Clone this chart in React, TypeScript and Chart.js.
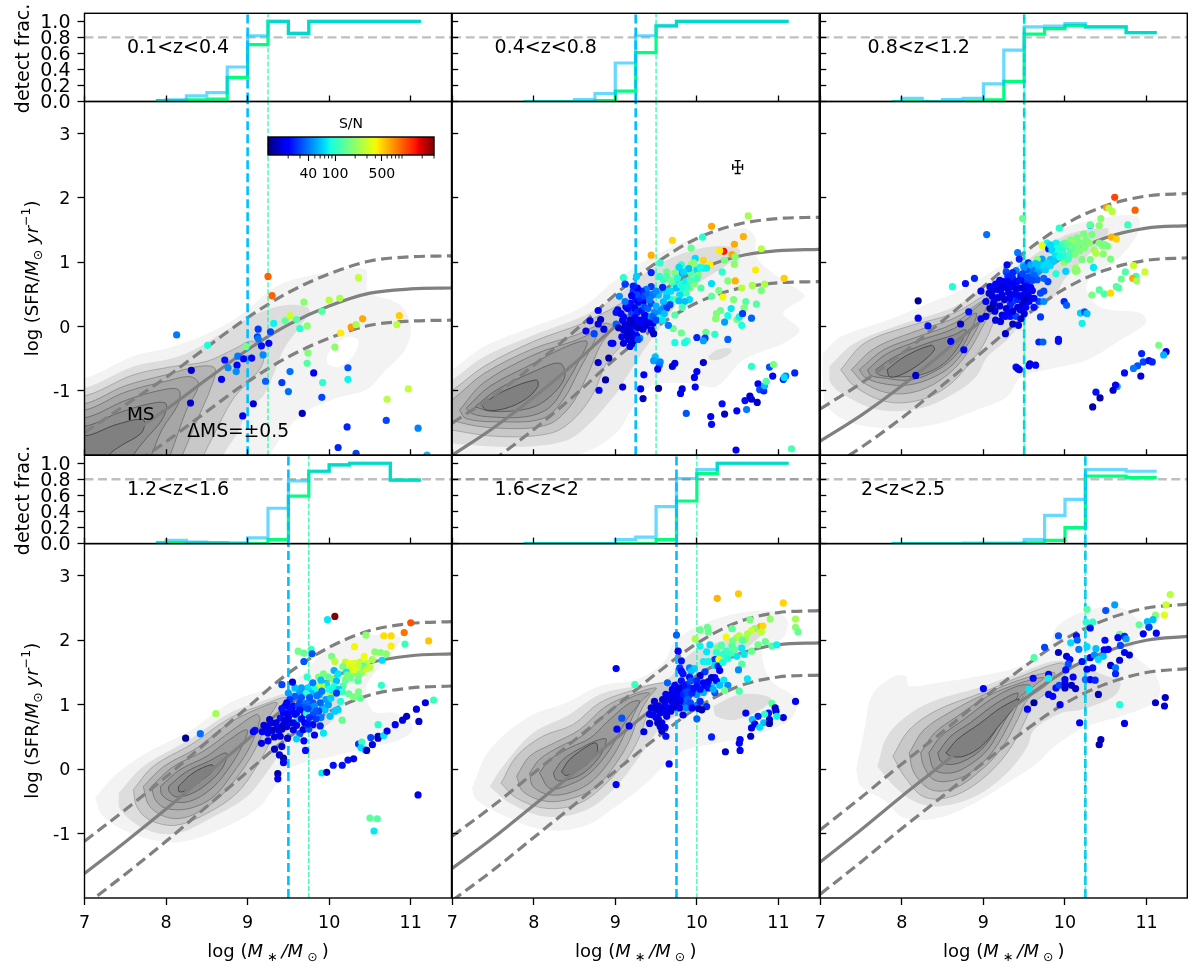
import React, { useEffect, useRef } from 'react';
import { Chart, registerables } from 'chart.js';
Chart.register(...registerables);

type P = number[];
const FONT = '"DejaVu Sans"';

// ---- shared axes ----
const massTicks = [7, 8, 9, 10, 11];
const fracTicks = [0, 0.2, 0.4, 0.6, 0.8, 1.0];
const sfrTicks = [-1, 0, 1, 2, 3];
const zLabels = ['0.1<z<0.4', '0.4<z<0.8', '0.8<z<1.2', '1.2<z<1.6', '1.6<z<2', '2<z<2.5'];
const zLabelX = [7.52, 7.52, 7.58, 7.52, 7.52, 7.5];
const blueLimit = [9.0, 9.25, 9.5, 9.5, 9.75, 10.25];
const greenLimit = [9.25, 9.5, 9.5, 9.75, 10.0, 10.25];
const detectLevel = 0.8;

// ---- detection fraction histograms ----
const binEdges = [7.875, 8, 8.25, 8.5, 8.75, 9, 9.25, 9.5, 9.75, 10, 10.25, 10.5, 10.75, 11, 11.125];
const blueFrac = [
  [0.01, 0.02, 0.07, 0.11, 0.43, 0.82, 1, 0.85, 1, 1, 1, 1, 1, 1, 1],
  [0, 0, 0, 0.025, 0.1, 0.48, 0.82, 0.95, 1, 1, 1, 1, 1, 1, 1],
  [0, 0.04, 0, 0.025, 0.04, 0.22, 0.64, 0.93, 0.94, 0.97, 0.93, 0.93, 0.86, 0.86, 0.86],
  [0.01, 0.04, 0.02, 0.01, 0.01, 0.07, 0.44, 0.78, 0.9, 0.98, 1, 1, 0.79, 0.79, 0.79],
  [0, 0, 0, 0, 0, 0.05, 0.08, 0.46, 0.81, 0.92, 1, 1, 1, 1, 1],
  [0, 0, 0, 0, 0.005, 0.005, 0.005, 0.05, 0.35, 0.55, 0.92, 0.92, 0.9, 0.9, 0.9],
];
const greenFrac = [
  [0.01, 0.01, 0.02, 0.03, 0.3, 0.71, 1, 0.85, 1, 1, 1, 1, 1, 1, 1],
  [0, 0, 0, 0, 0.01, 0.13, 0.61, 0.94, 1, 1, 1, 1, 1, 1, 1],
  [0, 0, 0, 0, 0, 0.02, 0.25, 0.84, 0.91, 0.95, 0.93, 0.93, 0.86, 0.86, 0.86],
  [0.01, 0.01, 0.01, 0.01, 0, 0, 0.05, 0.59, 0.9, 0.98, 1, 1, 0.79, 0.79, 0.79],
  [0, 0, 0, 0, 0, 0, 0, 0.05, 0.53, 0.87, 1, 1, 1, 1, 1],
  [0, 0, 0, 0, 0, 0, 0, 0.01, 0.04, 0.2, 0.84, 0.84, 0.82, 0.82, 0.82],
];

// ---- main sequence curves ----
const msMass = [7, 7.5, 8, 8.5, 9, 9.5, 10, 10.5, 11, 11.5];
const msMid = [
  [-2.15, -1.72, -1.29, -0.82, -0.36, 0.03, 0.32, 0.52, 0.585, 0.6],
  [-2.0, -1.58, -1.1, -0.57, 0.0, 0.49, 0.87, 1.09, 1.18, 1.2],
  [-1.78, -1.38, -0.92, -0.41, 0.12, 0.65, 1.09, 1.38, 1.53, 1.57],
  [-1.62, -1.13, -0.62, -0.08, 0.46, 0.99, 1.39, 1.65, 1.76, 1.79],
  [-1.54, -1.07, -0.56, -0.05, 0.47, 0.98, 1.45, 1.78, 1.93, 1.96],
  [-1.44, -0.94, -0.42, 0.08, 0.6, 1.09, 1.52, 1.82, 2.0, 2.06],
];
const msUpper = [
  [-1.65, -1.22, -0.79, -0.32, 0.14, 0.53, 0.82, 1.02, 1.085, 1.1],
  [-1.5, -1.08, -0.6, -0.07, 0.5, 0.99, 1.37, 1.59, 1.68, 1.7],
  [-1.28, -0.88, -0.42, 0.09, 0.62, 1.15, 1.59, 1.88, 2.03, 2.07],
  [-1.12, -0.63, -0.12, 0.42, 0.96, 1.49, 1.89, 2.15, 2.26, 2.29],
  [-1.04, -0.57, -0.06, 0.45, 0.97, 1.48, 1.95, 2.28, 2.43, 2.46],
  [-0.94, -0.44, 0.08, 0.58, 1.1, 1.59, 2.02, 2.32, 2.5, 2.56],
];
const msLower = [
  [-2.65, -2.22, -1.79, -1.32, -0.86, -0.47, -0.18, 0.02, 0.085, 0.1],
  [-2.5, -2.08, -1.6, -1.07, -0.5, -0.01, 0.37, 0.59, 0.68, 0.7],
  [-2.28, -1.88, -1.42, -0.91, -0.38, 0.15, 0.59, 0.88, 1.03, 1.07],
  [-2.12, -1.63, -1.12, -0.58, -0.04, 0.49, 0.89, 1.15, 1.26, 1.29],
  [-2.04, -1.57, -1.06, -0.55, -0.03, 0.48, 0.95, 1.28, 1.43, 1.46],
  [-1.94, -1.44, -0.92, -0.42, 0.1, 0.59, 1.02, 1.32, 1.5, 1.56],
];

// ---- galaxies: [log mass, log SFR, S/N] ----
const galaxiesP1: P[] = [
  [8.13,-0.13,40],[9.25,0.78,1000],[9.3,0.48,1000],[8.51,-0.29,90],[8.98,-0.31,170],[9.32,0.05,80],[9.46,0.09,140],[9.52,0.17,300],[9.6,0.11,130],[9.64,-0.03,95],[9.73,0.01,190],[9.69,0.38,190],[9.91,0.24,130],[10,0.41,260],[10.13,0.44,240],[10.36,0.76,280],[10.14,-0.1,430],[10.27,-0.01,700],[10.33,0.03,230],[10.41,0.12,650],[10.86,0.17,520],[10.83,0.03,270],[10.07,-0.32,190],[9.74,-0.41,180],[9.73,-0.57,130],
  [9.13,-0.04,28],[9.28,-0.08,30],[9.12,-0.16,30],[9.13,-0.19,40],[9.17,-0.3,22],[9.26,-0.26,20],[9.19,-0.44,45],[8.88,-0.46,40],[8.72,-0.52,22],[8.31,-0.68,14],[8.76,-0.64,45],[8.87,-0.6,20],[8.95,-0.5,20],[9.05,-0.49,18],[8.86,-0.7,45],[8.68,-0.82,18],[8.3,-1.19,15],[9.07,-1.2,16],[8.94,-1.39,20],[9.22,-0.85,35],[9.42,-0.87,28],[9.52,-0.7,38],[9.5,-1.01,38],[9.81,-0.72,18],[9.92,-0.87,100],[9.91,-1.1,30],[9.67,-1.35,14],[10.23,-0.64,32],[10.23,-0.82,80],[10.22,-1.56,25],[10.11,-1.88,25],[10.33,-1.97,30],[10.7,-1.46,30],[10.71,-1.13,260],[10.97,-0.97,280],[11.09,-1.58,42],[11.2,-2.0,60],
];
const galaxiesP2: P[] = [
  [10.63,1.72,230],[10.18,1.56,650],[10.57,1.4,620],[10.46,1.28,650],[9.7,1.34,480],[10.07,1.39,95],[9.44,1.11,620],[10.33,1.17,1600],[10.28,1.18,430],[10.79,1.21,260],[10.43,1.12,650],[10.47,1.08,190],[10.08,1.03,500],[10.16,0.96,420],[9.98,1.06,70],[9.93,1.22,150],[9.55,0.99,100],[10.34,1.03,170],[10.46,0.97,190],[9.81,0.96,100],[9.96,0.99,190],[9.63,0.85,150],[9.1,0.76,100],[9.26,0.78,65],[9.44,0.84,25],[9.12,0.66,28],[9.78,0.92,70],[9.82,0.83,55],[10,0.88,70],[10.12,0.91,80],[10.31,0.85,100],[10.72,0.88,430],[11.07,0.75,520],[10.47,0.71,620],[10.38,0.71,180],[10.18,0.67,70],[10.83,0.66,240],[10.68,0.64,240],[10.55,0.6,270],[10.79,0.56,170],[10.27,0.56,170],[10.18,0.47,140],[10.32,0.46,400],[10.45,0.42,180],[10.6,0.39,130],[10.58,0.29,180],[10.73,0.35,130],[10.29,0.25,150],[10.42,0.28,75],[10.24,0.2,180],[10.23,0.12,190],[10.34,0.07,50],[10.38,0.17,85],[10.49,0.11,170],[10.52,0.15,80],[10.56,0.2,28],[10.67,0.13,35],[10.55,0.02,90],[10.38,-0.2,35],[10.22,-0.12,100],[10.11,-0.09,150],[10,-0.17,25],[10.1,-0.18,28],[10.08,-0.22,50],[9.88,-0.22,110],[9.85,-0.25,85],[9.73,-0.25,85],[9.81,-0.1,150],[9.71,-0.03,150],[9.65,0.02,40],
  [9.59,0.73,110],[9.71,0.67,110],[9.83,0.57,90],[9.91,0.42,70],[9.87,0.52,110],[9.79,0.49,70],[9.69,0.42,90],[9.75,0.42,130],[9.85,0.39,60],[9.59,0.39,60],[9.63,0.47,60],[9.53,0.49,60],[9.54,0.78,100],[9.63,0.78,130],[9.73,0.83,170],[9.93,0.83,130],[10.02,0.8,170],[10.08,0.91,80],[9.93,0.96,190],[9.97,0.67,180],[9.91,0.6,170],[9.73,0.18,130],[9.59,0.29,50],[9.67,0.34,30],[9.63,0.29,28],[9.53,0.21,50],[9.42,0.16,50],[9.54,0.13,100],
  [9.62,0.55,70],[9.68,0.55,70],[9.75,0.6,60],[9.8,0.65,90],[9.86,0.7,80],[9.92,0.72,120],[10,0.75,110],[10.04,0.92,85],[9.9,0.9,60],[9.84,0.85,70],[9.76,0.75,90],[9.68,0.72,150],[9.88,0.62,95],[9.78,0.4,60],[9.82,0.3,120],[10.05,0.6,130],
  [9.44,0.62,28],[9.38,0.58,40],[9.32,0.55,25],[9.58,0.61,25],[9.22,0.55,28],[9.3,0.49,22],[9.25,0.42,22],[9.34,0.39,18],[9.18,0.36,20],[9.13,0.31,18],[9.05,0.47,45],[9.12,0.39,40],[9.03,0.26,20],[9.01,0.22,22],[9.09,0.1,18],[9.01,0.04,35],[9.2,0.21,30],[9.3,0.31,50],[9.42,0.06,18],[9.46,0.05,16],[9.36,0.18,18],[9.44,-0.05,18],[9.22,0.08,20],[9.18,0,18],[9.26,0.03,18],[9.16,-0.03,16],[9.34,-0.04,16],[9.24,-0.05,18],[9.08,-0.16,18],[9.1,-0.26,16],[8.97,-0.26,18],[8.95,-0.26,20],[9.2,-0.18,15],[9.18,-0.31,18],[9.24,-0.1,40],[9.3,-0.18,45],[8.79,0.25,18],[8.69,0.09,18],[8.82,0.11,14],[8.79,0.04,16],[8.86,-0.04,16],[8.64,-0.07,18],[8.74,-0.11,30],[9.47,-0.11,14],
  [9.07,0.2,18],[9.1,0.15,20],[9.15,0.28,20],[9.2,0.32,22],[9.24,0.28,18],[9.27,0.22,25],[9.32,0.25,22],[9.28,0.38,20],[9.36,0.3,30],[9.4,0.28,35],[9.44,0.36,30],[9.48,0.22,45],[9.36,0.1,20],[9.3,0.1,18],[9.24,0.14,18],[9.18,0.1,16],[9.12,0.03,16],[9.2,0.05,14],[9.28,-0.02,14],[9.32,0.06,20],[9.38,0.02,16],[9.2,-0.1,16],[9.14,-0.13,14],[9.22,-0.22,14],[9.16,-0.2,16],[9.26,-0.14,20],[9.28,-0.2,30],[9.2,-0.27,16],[9.1,-0.05,16],[9.04,-0.02,14],[9.3,0.44,25],[9.26,0.5,30],[9.2,0.48,20],[9.35,0.48,30],[9.4,0.5,35],[9.46,0.5,40],[9.42,0.42,40],[9.27,0.6,20],[9.22,0.63,24],[9.5,0.55,45],[9.5,0.32,55],[9.56,0.25,45],[9.6,0.2,60],[9.46,0.15,35],[9.5,0.1,30],[9.58,0.1,75],
  [8.92,-0.49,12],[8.79,-0.56,14],[9.49,-0.47,60],[9.47,-0.53,50],[9.55,-0.55,45],[9.54,-0.6,40],[9.52,-0.66,20],[9.73,-0.57,20],[9.7,-0.62,16],[10.08,-0.56,14],[10,-0.7,20],[9.97,-0.79,18],[9.35,-0.75,20],[8.88,-0.83,12],[8.8,-0.99,18],[9.09,-0.94,16],[9.31,-0.97,20],[9.53,-0.96,12],[9.34,-1.12,14],[9.82,-0.97,16],[9.8,-1.04,20],[9.98,-0.94,20],[9.87,-1.35,32],[10.17,-1.4,18],[10.18,-1.52,22],[10.31,-1.2,22],[10.34,-1.36,14],[10.49,-1.31,18],[10.61,-1.29,40],[10.59,-1.15,22],[10.65,-1.08,14],[10.67,-1.13,16],[10.74,-1.18,14],[10.75,-0.89,20],[10.77,-0.98,32],[10.82,-1,25],[10.83,-0.92,60],[10.85,-0.85,130],[10.93,-0.77,20],[10.89,-0.63,32],[10.94,-0.59,170],[10.67,-0.62,100],[11.06,-0.82,22],[11.09,-0.77,40],[11.07,-0.79,70],[11.2,-0.72,25],[10.48,-1.92,18],[11.16,-1.9,120],
];
const galaxiesP3: P[] = [
  [10.61,2.01,1200],[10.51,1.85,700],[10.58,1.79,270],[10.54,1.84,250],[10.86,1.81,1000],[10.44,1.68,190],[10.42,1.57,190],[10.31,1.57,60],[10.31,1.58,140],[10.77,1.58,110],[9.48,1.68,150],[9.93,1.53,100],[9.04,1.43,38],[10.23,1.44,170],[10.33,1.43,170],[10.15,1.38,170],[10.57,1.39,600],[10.63,1.36,500],[10.07,1.35,180],[10,1.3,140],[10.11,1.3,200],[10.17,1.3,170],[10.03,1.25,130],[9.95,1.27,110],[9.89,1.3,80],[9.78,1.3,80],[9.72,1.26,350],[9.8,1.21,24],[9.82,1.27,70],[9.91,1.22,90],[9.84,1.19,70],[9.93,1.14,90],[9.97,1.19,100],[10.07,1.19,110],[10.13,1.22,160],[10.21,1.3,170],[10.46,1.25,190],[10.52,1.25,170],[10.48,1.28,170],[10.36,1.19,220],[10.38,1.14,250],[10.47,1.13,190],[10.56,1.05,170],[10.21,1.04,170],[10.31,1.04,170],[10.35,0.92,75],[10.13,0.91,210],[10.15,0.87,190],[10.01,0.86,65],[9.89,0.82,90],[9.99,1,190],
  [9.88,1.1,75],[9.94,1.08,85],[10,1.1,90],[10.06,1.12,120],[10.12,1.12,170],[10.18,1.18,170],[10.24,1.22,180],[10.3,1.3,190],[10.26,1.34,170],[10.42,1.3,170],[10.08,1.25,150],[10.04,1.05,110],
  [9.72,1.05,50],[9.66,1.04,190],[9.82,1.04,60],[9.7,0.96,60],[9.78,0.99,70],[9.62,0.91,60],[9.72,0.91,60],[9.42,1.15,40],[9.44,1.05,25],[9.29,0.96,20],[9.49,0.95,60],[9.55,0.99,25],[9.53,0.88,30],[9.61,0.88,40],[9.4,0.87,40],[9.28,0.85,30],[9.58,0.8,40],[9.36,0.75,25],[9.46,0.79,22],[9.25,0.7,20],[9.4,0.69,18],[9.5,0.7,20],[9.54,0.7,25],[9.66,0.73,32],[9.74,0.75,35],[9.79,0.7,30],[9.08,0.62,20],[9.15,0.66,20],[8.97,0.55,20],[9.21,0.57,18],[9.29,0.6,16],[9.36,0.62,18],[9.44,0.6,20],[9.58,0.61,20],[9.07,0.52,14],[9.11,0.47,16],[9.23,0.49,16],[9.31,0.53,16],[9.03,0.39,20],[9.13,0.39,18],[9.36,0.39,30],[9.42,0.42,25],[9.54,0.52,18],[9.7,0.52,30],[9.74,0.55,30],[9.68,0.39,30],[9.74,0.39,45],[9.56,0.39,18],[9.48,0.34,14],[9.45,0.26,16],[9.33,0.34,25],[9.14,0.24,16],[9.03,0.16,16],[8.97,0.12,18],[9.23,0.18,16],[9.27,0.16,20],[9.33,0.16,22],[9.4,0.16,30],[9.15,0.1,16],[9.21,0.08,16],[9.36,0.04,14],[9.43,0.02,16],[9.27,-0.11,14],[9.99,0.39,25],[10.02,0.33,35],[9.7,0.15,28],
  [9.5,0.92,45],[9.58,0.96,55],[9.64,0.98,60],[9.68,0.9,60],[9.74,0.95,70],[9.76,0.88,65],[9.82,0.95,70],[9.86,1.02,65],[9.66,0.84,50],[9.62,0.8,35],[9.6,0.72,30],[9.54,0.76,30],[9.48,0.82,30],[9.44,0.72,22],[9.36,0.84,25],[9.3,0.78,25],[9.2,0.72,20],[9.3,0.7,20],[9.34,0.66,18],[9.22,0.64,16],[9.4,0.58,16],[9.52,0.62,20],[9.48,0.6,16],[9.5,0.5,18],[9.44,0.48,18],[9.38,0.5,20],[9.32,0.44,18],[9.26,0.42,16],[9.18,0.45,16],[9.16,0.58,16],[9.1,0.55,16],[9.6,0.56,18],[9.56,0.46,16],[9.62,0.44,20],[9.5,0.42,14],[9.42,0.3,16],[9.36,0.24,16],[9.28,0.28,16],[9.2,0.32,16],[9.12,0.34,14],[9.08,0.28,12],[9.3,0.22,20],[9.5,0.2,16],[9.52,0.3,18],[9.62,0.3,22],[9.46,0.12,14],
  [10.19,0.21,65],[10.24,0.23,32],[10.27,0.2,60],[10.21,0.05,80],[9.68,-0.24,25],[9.73,-0.24,35],[9.92,-0.2,22],[9.92,-0.23,22],[9.4,-0.63,22],[9.42,-0.65,18],[9.44,-0.67,16],[9.57,-0.58,16],[9.56,-0.61,20],[9.64,-0.6,18],[8.76,-0.36,18],[8.6,-0.23,18],[8.72,0.04,14],[8.82,0.23,22],[8.2,0.4,11],[8.2,0.13,20],[8.32,0.01,22],[8.17,-0.76,14],[8.62,0.62,90],[8.78,0.67,22],[8.89,0.75,25],
  [11.15,-0.29,170],[11.24,-0.39,18],[11.21,-0.44,55],[10.94,-0.42,25],[10.96,-0.55,30],[11.03,-0.53,22],[11.07,-0.55,25],[10.89,-0.61,32],[10.84,-0.65,40],[10.93,-0.77,16],[10.73,-0.72,22],[10.64,-0.93,50],[10.62,-0.91,20],[10.59,-0.99,14],[10.38,-1.02,22],[10.43,-1.11,12],[10.34,-1.25,12],
  [10.33,0.49,170],[10.42,0.57,130],[10.48,0.51,130],[10.56,0.52,480],[10.63,0.62,130],[10.66,0.6,130],[10.69,0.74,150],[10.74,0.85,130],[10.87,0.78,110],[10.83,0.75,650],[10.88,0.71,220],[10.98,0.85,300],[10.84,0.95,300],[10.13,0.86,190],
];
const galaxiesP4: P[] = [
  [10.07,2.37,2900],[9.98,2.32,75],[11,2.27,1100],[10.92,2.12,900],[11.22,1.99,550],[10.76,2.07,480],[10.67,2.07,470],[10.45,2.08,190],[10.93,1.94,110],[10.76,1.91,430],[10.31,1.9,400],[9.62,1.83,160],[9.69,1.8,150],[9.78,1.86,110],[9.79,1.79,32],[9.69,1.67,32],[10.03,1.75,170],[10.56,1.82,190],[10.63,1.81,180],[10.7,1.79,190],[10.07,1.67,260],[10.43,1.75,380],[10.53,1.7,230],[10.65,1.69,70],[10.2,1.66,270],[10.25,1.64,380],[10.31,1.64,350],[10.38,1.66,280],[10.46,1.64,280],[10.42,1.6,130],[10.27,1.57,300],[10.23,1.52,250],[10.17,1.59,170],[10.06,1.53,55],[10.11,1.48,75],[9.93,1.48,170],[9.87,1.43,170],[9.73,1.43,100],[10.21,1.5,75],[10.31,1.5,170],[9.99,1.43,140],[10.05,1.39,170],[9.97,1.31,70],[9.91,1.29,240],[9.85,1.28,280],[10.01,1.14,270],[10.09,1.37,60],[10.17,1.29,130],[10.35,1.37,130],[10.64,1.3,100],
  [10.2,1.38,150],[10.26,1.42,160],[10.22,1.46,170],[10.34,1.48,190],[10.4,1.5,220],[10.46,1.55,300],[10.5,1.58,280],[10.36,1.6,280],[10.3,1.54,350],[10.36,1.44,170],[10.04,1.22,80],[10,1.24,85],[10.06,1.28,90],[10.12,1.24,65],[10.16,1.2,110],[9.96,1.08,50],[10.02,1.1,65],[9.92,0.96,55],[9.9,1.38,60],[9.82,1.24,85],[9.74,1.26,70],[9.66,1.26,50],[9.58,1.26,60],[9.78,1.18,60],[9.88,1.16,50],
  [9.42,1.31,30],[9.55,1.35,16],[9.8,1.34,40],[9.91,1.21,40],[10.09,1.18,28],[10.24,1.17,150],[10.36,1.2,170],[10.3,1.12,170],[10.38,1.1,140],[10.14,1.05,90],
  [9.5,1.18,50],[9.64,1.19,50],[9.72,1.17,100],[9.58,1.13,35],[9.66,1.11,32],[9.52,1.08,28],[9.76,1.11,32],[9.85,1.14,40],[9.48,1.03,18],[9.56,0.98,22],[9.64,1.03,30],[9.7,1,40],[9.8,1.03,32],[9.89,1.03,35],[9.95,0.92,60],[9.99,1,50],[10.11,0.92,65],[10.07,0.9,65],[9.44,0.87,20],[9.5,0.87,18],[9.6,0.87,20],[9.7,0.85,24],[9.8,0.85,32],[9.62,0.77,75],[9.72,0.87,100],[10.01,0.82,60],[9.87,0.9,28],[9.4,0.79,22],[9.27,0.77,14],[9.29,0.72,16],[9.56,0.72,20],[9.8,0.69,20],[9.23,0.66,18],[9.36,0.66,18],[9.44,0.69,16],[9.64,0.55,32],[9.56,0.61,16],[9.68,0.61,16],[9.09,0.6,22],[9.07,0.58,20],[9.18,0.58,18],[9.25,0.56,18],[9.33,0.5,16],[9.4,0.51,16],[9.49,0.48,14],[9.75,0.62,32],[9.89,0.67,25],[9.17,0.4,16],[9.25,0.44,18],[9.6,0.47,65],[9.69,0.44,20],[9.93,0.56,75],[9.82,0.53,18],[9.33,0.31,14],[9.42,0.35,16],[9.71,0.29,22],[9.39,0.22,16],[9.44,0.17,12],[9.44,0.1,18],[9.37,-0.07,12],[9.37,-0.15,18],
  [9.78,0.95,45],[9.82,0.98,45],[9.72,1.02,38],[9.68,0.96,32],[9.62,0.98,30],[9.74,0.94,30],[9.84,0.9,32],[9.9,0.8,40],[9.84,0.78,28],[9.76,0.8,25],[9.64,0.92,22],[9.58,0.85,20],[9.54,0.92,20],[9.52,0.95,22],[9.46,0.98,18],[9.42,0.94,22],[9.5,0.8,18],[9.46,0.76,16],[9.52,0.72,16],[9.66,0.78,20],[9.7,0.72,20],[9.6,0.68,18],[9.74,0.7,22],[9.48,0.66,16],[9.42,0.62,14],[9.38,0.6,16],[9.35,0.72,16],[9.3,0.6,14],[9.26,0.62,16],[9.2,0.68,16],
  [8.24,0.48,11],[8.42,0.55,38],[8.61,0.86,230],[10.16,0.76,150],[9.91,-0.06,75],[9.97,-0.05,14],[10.05,0.06,22],[10.16,0.06,22],[10.23,0.14,22],[10.3,0.16,18],[10.36,0.39,28],[10.4,0.42,110],[10.39,0.33,70],[10.44,0.3,60],[10.46,0.29,14],[10.53,0.38,16],[10.51,0.49,30],[10.6,0.51,16],[10.6,0.48,14],[10.67,0.52,75],[10.6,0.69,100],[10.71,0.59,18],[10.81,0.69,18],[10.9,0.76,16],[10.95,0.82,14],[11.1,0.74,14],[11.07,0.93,16],[11.18,1.03,16],[11.28,1.07,110],[11.09,-0.4,18],[10.5,-0.76,140],[10.59,-0.77,130],[10.55,-0.96,75],
];
const galaxiesP5: P[] = [
  [10.25,2.65,600],[10.51,2.72,530],[11.06,2.58,500],[10.65,2.32,170],[10.9,2.33,200],[11.21,2.33,230],[11.21,2.2,190],[11.24,2.13,150],[10.04,2.16,150],[10.13,2.2,150],[10.14,2.13,150],[10.43,2.18,140],[10.78,2.21,650],[10.81,2.22,480],[10.71,2.18,200],[10.67,2.15,300],[10.79,2.13,270],[9.98,2.02,230],[10.36,2.05,400],[10.49,2.04,240],[10.52,2.07,250],[10.6,2.01,220],[10.44,1.99,160],[9.75,2.08,35],[10.04,1.91,80],[10.16,1.93,70],[10.43,1.91,130],[10.84,1.98,150],[10.75,1.93,150],[10.67,1.83,150],[10.92,1.91,130],[10.98,1.93,80],[10.25,1.88,170],[10.36,1.83,110],[10.24,1.81,100],[10.32,1.78,100],[10.12,1.82,75],[10.55,1.88,75],[10.49,1.75,75],[10.58,1.78,75],[9.77,1.83,20],[10.22,1.7,28],[10.27,1.7,400],[10.08,1.67,80],[10.14,1.67,80],[10.22,1.61,70],[10.55,1.63,130],[10.26,1.6,24],
  [10.32,1.66,85],[10.38,1.72,90],[10.42,1.8,110],[10.46,1.86,140],[10.3,1.92,130],[10.56,2.0,130],[10.62,2.1,240],
  [9.01,1.56,18],[9.81,1.68,22],[9.79,1.57,28],[9.81,1.52,20],[9.91,1.57,40],[9.97,1.56,65],[9.93,1.52,60],[10.1,1.51,28],[10.04,1.45,16],[10.51,1.54,45],[10.62,1.4,75],[10.22,1.42,20],[10.28,1.53,18],[9.91,1.43,22],[9.83,1.48,22],[9.93,1.37,32],[9.64,1.34,35],[9.73,1.3,20],[9.81,1.37,22],[9.87,1.31,30],[10,1.37,25],[10.1,1.29,20],[10.24,1.37,20],[10.33,1.38,75],[10.38,1.3,45],[10.18,1.29,65],[9.24,1.31,110],[10,1.29,22],[9.69,1.17,20],[9.77,1.21,16],[9.83,1.24,25],[9.91,1.26,25],[10.22,1.19,32],[10.34,1.22,160],[10.52,1.21,130],[9.67,1.13,18],[9.75,1.11,18],[9.81,1.05,18],[10,1.16,45],[10.08,1.19,55],[9.48,1.05,16],[9.44,0.95,16],[9.53,0.98,18],[9.59,0.95,16],[9.65,0.95,18],[9.75,1.03,16],[9.87,1,32],[10,0.99,40],[10.12,0.97,25],[9.61,1.03,18],[9.83,0.84,16],[9.79,0.95,18],[9.87,0.95,45],[10.06,0.92,12],[9.42,0.85,18],[9.55,0.87,18],[9.63,0.82,16],[9.08,0.79,32],[9.17,0.67,18],[9.02,0.62,20],[9.42,0.71,16],[9.35,0.58,16],[9.53,0.77,18],[9.57,0.72,18],[9.61,0.65,18],[9.57,0.59,14],[9.62,0.51,22],[10,0.78,35],
  [9.5,0.92,16],[9.56,0.9,16],[9.62,0.88,18],[9.68,0.9,16],[9.72,0.96,16],[9.7,1.04,18],[9.66,1.08,16],[9.72,1.14,16],[9.76,1.16,18],[9.8,1.12,20],[9.84,1.16,25],[9.88,1.2,30],[9.9,1.14,30],[9.94,1.18,25],[9.96,1.25,22],[9.84,1.3,22],[9.78,1.26,16],[9.7,1.24,18],[9.88,1.08,35],[9.92,1.03,30],[9.94,0.95,18],[10.04,1.24,22],[10.08,1.34,20],[10.14,1.26,22],[10.14,1.36,20],[10.18,1.42,16],[10.2,1.24,55],[10.28,1.3,60],[10.04,1.05,25],[10.02,0.94,14],[9.5,0.8,16],[9.46,0.84,18],[9.52,0.72,14],[9.55,0.66,16],[9.5,0.97,16],[9.58,1.08,16],[9.62,1.16,18],
  [10.92,1.02,140],[11.21,1.05,18],[11.06,0.8,16],[10.6,0.87,18],[10.96,0.95,14],[10.97,0.9,16],[10.88,0.87,22],[10.98,0.82,80],[10.83,0.85,100],[10.75,0.82,25],[10.68,0.77,60],[10.89,0.77,16],[10.82,0.72,60],[10.89,0.71,12],[10.71,0.7,18],[10.77,0.65,70],[10.67,0.64,18],[10.66,0.51,14],[10.53,0.46,20],[10.52,0.4,20],[10.53,0.29,20],[10.35,0.27,14],[10.18,0.5,25],[9.66,0.08,20],[9.01,-0.24,20],
];
const galaxiesP6: P[] = [
  [11.29,2.71,260],[11.24,2.55,300],[11.22,2.39,350],[11.11,2.39,190],[10.61,2.55,50],[10.5,2.46,32],[10.27,2.48,130],[11.08,2.32,60],[11.01,2.29,60],[11.03,2.21,70],[10.91,2.24,140],[11.03,2.2,28],[10.34,2.28,100],[10.26,2.28,100],[10.31,2.19,22],[11.12,2.11,18],[10.96,2.1,18],[10.67,2.09,150],[9.92,2.07,32],[10.14,2.07,22],[10.65,2.04,18],[10.73,2.06,25],[10.75,2.02,50],[10.49,2,22],[10.15,2,35],[10.07,1.96,70],[9.75,1.89,30],[10.68,1.92,30],[9.62,1.73,130],[9.92,1.81,14],[10.17,1.86,40],[10.27,1.9,70],[10.38,1.87,60],[10.48,1.85,18],[10.53,1.86,18],[10.73,1.81,18],[10.79,1.77,14],[10.02,1.75,16],[10.06,1.7,18],[10.31,1.73,16],[10.36,1.77,45],[10.47,1.75,60],[10.41,1.7,70],[10.21,1.67,22],[10.04,1.63,32],[10.01,1.54,22],[10.34,1.57,22],[10.56,1.61,14],[10.67,1.69,16],[10.62,1.57,40],[10.62,1.48,25],[10.27,1.55,18],[9.61,1.41,18],[9.8,1.47,20],[9.8,1.41,80],[10.1,1.43,18],[10,1.39,18],[10.25,1.39,40],[10.31,1.39,18],[10.37,1.38,25],[9.56,1.24,75],[9.89,1.26,22],[9.93,1.3,30],[10,1.33,18],[10,1.26,14],[10.08,1.3,14],[10.13,1.25,14],[9,1.25,18],[9.8,1.16,20],[9.85,1.13,20],[10.41,1.16,14],[9.62,1.03,12],[9.54,0.93,18],[9.94,1,18],[10.67,1,90],[11.11,1.03,14],[11.23,1.11,14],[11.22,0.98,16],[10.18,0.72,20],[10.73,0.71,18],[10.44,0.46,14],[10.42,0.38,12],
];
const galaxies = [galaxiesP1, galaxiesP2, galaxiesP3, galaxiesP4, galaxiesP5, galaxiesP6];

// ---- density contours: outer to inner ----
const contoursP1: P[][] = [
  [[6.8,-0.7],[7,-0.8],[7.6,-0.46],[8.09,-0.31],[8.58,-0.07],[8.95,0.21],[9.36,0.63],[9.84,0.81],[10.44,0.89],[10.48,0.55],[10.87,0.34],[11,0],[10.93,-0.36],[10.66,-0.72],[10.46,-0.98],[10.05,-1.13],[9.64,-1.39],[9.27,-2.0],[9.2,-2.3],[6.8,-2.3]],
  [[6.8,-0.85],[7,-0.95],[7.6,-0.62],[8.09,-0.49],[8.42,-0.31],[8.82,0],[9.23,0.26],[9.56,0.34],[9.76,0.26],[9.64,0],[9.44,-0.36],[9.31,-0.77],[9.19,-1.08],[8.99,-1.29],[8.9,-1.6],[8.7,-2],[8.6,-2.3],[6.8,-2.3]],
  [[6.8,-1.0],[7,-1.08],[7.6,-0.75],[8.09,-0.62],[8.5,-0.54],[8.82,-0.36],[9.07,-0.23],[9.19,-0.56],[8.82,-1.13],[8.58,-1.7],[8.46,-2],[8.35,-2.3],[6.8,-2.3]],
  [[6.8,-1.12],[7,-1.2],[7.5,-0.92],[8,-0.75],[8.4,-0.62],[8.6,-0.65],[8.55,-0.95],[8.4,-1.4],[8.2,-2],[8.1,-2.3],[6.8,-2.3]],
  [[6.8,-1.22],[7,-1.3],[7.5,-1.02],[8,-0.85],[8.3,-0.78],[8.4,-0.9],[8.25,-1.3],[8.05,-2],[7.95,-2.3],[6.8,-2.3]],
  [[6.8,-1.32],[7,-1.42],[7.5,-1.15],[7.9,-1],[8.15,-0.98],[8.15,-1.2],[7.95,-1.6],[7.82,-2],[7.7,-2.3],[6.8,-2.3]],
  [[6.8,-1.45],[7,-1.55],[7.4,-1.35],[7.8,-1.2],[8,-1.2],[7.95,-1.45],[7.75,-1.75],[7.6,-2],[7.5,-2.3],[6.8,-2.3]],
  [[6.8,-1.6],[7,-1.7],[7.4,-1.52],[7.72,-1.45],[7.7,-1.65],[7.45,-1.85],[7.3,-2],[7.2,-2.3],[6.8,-2.3]],
];
const holeP1: P[] = [[9.97,-0.46],[10.05,-0.31],[10.25,-0.16],[10.36,-0.23],[10.29,-0.46],[10.13,-0.62],[9.99,-0.59]];
const contoursP2: P[][] = [
  [[6.8,-0.8],[7,-0.67],[7.39,-0.31],[8,0],[8.6,0.31],[9.01,0.73],[9.5,1.12],[10.04,1.4],[10.57,1.53],[10.71,1.4],[10.73,1.09],[10.9,0.86],[11.18,0.62],[11.32,0.47],[11.06,0.21],[11.26,-0.05],[11.06,-0.26],[10.57,-0.52],[10.24,-0.93],[9.91,-0.88],[9.42,-0.93],[9.22,-1.25],[9.01,-1.66],[8.6,-1.97],[8.1,-2.08],[6.8,-2.1]],
  [[6.8,-0.95],[7,-0.83],[7.39,-0.47],[8,-0.13],[8.6,0.16],[9.01,0.47],[9.42,0.88],[9.83,1.14],[10.24,1.25],[10.53,1.19],[10.4,0.99],[10.08,0.73],[9.83,0.47],[9.59,0.05],[9.38,-0.31],[9.14,-0.78],[9.01,-1.04],[8.69,-1.5],[8.4,-1.77],[7.79,-1.87],[7,-1.82],[6.8,-1.75]],
  [[6.8,-1.1],[7,-0.99],[7.39,-0.62],[8,-0.23],[8.6,0.05],[8.93,0.26],[9.18,0.42],[9.42,0.42],[9.38,0.16],[9.14,-0.21],[8.89,-0.57],[8.73,-1.04],[8.48,-1.45],[8.2,-1.66],[7.58,-1.71],[7,-1.61],[6.8,-1.55]],
  [[6.8,-1.3],[7,-1.14],[7.39,-0.73],[8,-0.34],[8.52,-0.13],[8.85,0.05],[8.97,0],[8.81,-0.31],[8.65,-0.78],[8.44,-1.25],[8.16,-1.53],[7.58,-1.58],[7.06,-1.48]],
  [[7.09,-1.3],[7.38,-0.88],[8,-0.44],[8.48,-0.23],[8.77,-0.1],[8.73,-0.26],[8.56,-0.67],[8.36,-1.14],[8.11,-1.43],[7.58,-1.48],[7.17,-1.43]],
  [[7.17,-1.27],[7.46,-0.93],[8,-0.57],[8.4,-0.31],[8.65,-0.23],[8.58,-0.47],[8.4,-0.88],[8.2,-1.25],[7.91,-1.4],[7.42,-1.4],[7.24,-1.35]],
  [[7.28,-1.25],[7.54,-0.99],[8,-0.7],[8.32,-0.57],[8.38,-0.78],[8.2,-1.09],[7.95,-1.27],[7.5,-1.32]],
  [[7.36,-1.22],[7.62,-1.01],[8.03,-0.83],[8.05,-0.93],[7.91,-1.12],[7.66,-1.27],[7.42,-1.3]],
];
const isletP2: P[] = [[10.14,-0.46],[10.25,-0.36],[10.41,-0.34],[10.42,-0.4],[10.3,-0.5],[10.17,-0.52]];
const contoursP3: P[][] = [
  [[7.03,-0.42],[7.25,-0.16],[7.82,0.1],[8.23,0.31],[8.72,0.57],[9.13,0.88],[9.54,1.19],[9.93,1.51],[10.48,1.69],[10.89,1.71],[10.89,1.45],[10.68,1.09],[10.27,0.67],[10.42,0.31],[10.93,0.21],[10.99,0.05],[10.68,-0.21],[10.27,-0.52],[9.78,-0.67],[9.46,-0.78],[9.29,-1.09],[8.97,-1.27],[8.44,-1.51],[7.95,-1.58],[7.42,-1.51],[7.09,-1.25],[7.03,-0.83]],
  [[7.11,-0.62],[7.42,-0.26],[8.03,0.05],[8.64,0.31],[9.13,0.73],[9.54,1.04],[10.03,1.43],[10.52,1.53],[10.52,1.43],[10.19,0.99],[9.99,0.73],[9.87,0.47],[9.54,0.16],[9.29,-0.21],[9.05,-0.47],[8.91,-0.78],[8.64,-1.04],[8.23,-1.27],[7.74,-1.3],[7.33,-1.09],[7.13,-0.88]],
  [[7.25,-0.67],[7.54,-0.26],[8.07,0],[8.64,0.21],[9.05,0.52],[9.29,0.7],[9.33,0.6],[9.17,0.21],[9.01,-0.26],[8.8,-0.62],[8.56,-0.93],[8.23,-1.14],[7.82,-1.17],[7.42,-0.93]],
  [[7.38,-0.67],[7.66,-0.34],[8.15,-0.08],[8.64,0.13],[9.01,0.42],[9.17,0.55],[9.13,0.36],[8.97,-0.05],[8.8,-0.42],[8.56,-0.75],[8.23,-0.99],[7.87,-1.04],[7.54,-0.88]],
  [[7.48,-0.67],[7.78,-0.36],[8.19,-0.16],[8.64,0.05],[8.97,0.36],[9.07,0.47],[9.01,0.21],[8.84,-0.21],[8.64,-0.57],[8.4,-0.78],[8.07,-0.91],[7.74,-0.88],[7.54,-0.78]],
  [[7.58,-0.67],[7.82,-0.42],[8.23,-0.21],[8.64,-0.03],[8.91,0.21],[8.84,-0.08],[8.68,-0.42],[8.44,-0.67],[8.11,-0.83],[7.78,-0.8],[7.62,-0.76]],
  [[7.68,-0.67],[7.91,-0.47],[8.31,-0.26],[8.64,-0.13],[8.78,-0.05],[8.72,-0.26],[8.52,-0.57],[8.23,-0.75],[7.91,-0.78],[7.72,-0.75]],
  [[7.82,-0.67],[8.03,-0.47],[8.36,-0.29],[8.4,-0.36],[8.23,-0.57],[7.99,-0.75],[7.85,-0.78]],
];
const contoursP4: P[][] = [
  [[7.13,-0.45],[7.36,-0.11],[7.76,0.25],[8.29,0.59],[8.78,1.03],[9.27,1.26],[9.64,1.44],[10.01,1.91],[10.46,2.07],[10.87,2.04],[10.78,1.81],[10.46,1.29],[10.54,0.9],[10.82,0.87],[11.03,0.64],[10.87,0.46],[10.46,0.33],[10.05,0.2],[9.56,0.04],[9.36,-0.22],[9.15,-0.58],[8.74,-0.89],[8.17,-1.13],[7.68,-1.05],[7.23,-0.74]],
  [[7.42,-0.37],[7.72,0.04],[8.29,0.46],[8.78,0.87],[9.23,1.08],[9.48,1.18],[9.8,1.26],[10.09,1.13],[10.09,0.87],[9.95,0.66],[9.56,0.51],[9.4,0.25],[9.23,-0.06],[8.99,-0.43],[8.58,-0.74],[8.13,-1],[7.76,-0.94],[7.44,-0.63]],
  [[7.6,-0.32],[7.84,0.04],[8.33,0.4],[8.78,0.79],[9.19,1],[9.48,1.11],[9.44,0.92],[9.31,0.51],[9.11,0.04],[8.87,-0.37],[8.54,-0.66],[8.13,-0.87],[7.8,-0.79],[7.64,-0.58]],
  [[7.72,-0.27],[7.97,0.04],[8.38,0.33],[8.78,0.72],[9.15,0.95],[9.36,1.03],[9.27,0.82],[9.11,0.35],[8.91,-0.06],[8.66,-0.43],[8.33,-0.71],[8.05,-0.76],[7.8,-0.58]],
  [[7.82,-0.27],[8.09,0.04],[8.46,0.28],[8.82,0.61],[9.11,0.85],[9.15,0.77],[9.03,0.35],[8.82,-0.06],[8.58,-0.43],[8.29,-0.61],[8,-0.61],[7.87,-0.48]],
  [[7.93,-0.27],[8.17,-0.01],[8.5,0.2],[8.78,0.46],[8.99,0.61],[8.95,0.4],[8.74,-0.04],[8.54,-0.32],[8.29,-0.5],[8.07,-0.5],[7.95,-0.4]],
  [[8.03,-0.27],[8.25,-0.04],[8.52,0.12],[8.74,0.25],[8.7,0.04],[8.54,-0.19],[8.33,-0.37],[8.13,-0.43],[8.04,-0.35]],
  [[8.15,-0.27],[8.33,-0.06],[8.56,0.07],[8.58,-0.01],[8.42,-0.19],[8.25,-0.33],[8.16,-0.35]],
];
const contoursP5: P[][] = [
  [[7.24,-0.3],[7.46,0.3],[7.95,0.82],[8.4,1.03],[8.81,1.29],[9.26,1.39],[9.59,1.65],[9.75,2.01],[10.24,2.33],[10.85,2.46],[11.1,2.33],[11.06,2.04],[10.81,1.88],[10.9,1.39],[11.22,1.08],[11.14,0.77],[10.65,0.51],[10.24,0.4],[9.83,0.28],[9.59,0.04],[9.38,-0.22],[9.01,-0.58],[8.61,-0.89],[8.11,-0.94],[7.58,-0.69],[7.3,-0.48]],
  [[7.46,-0.27],[7.62,0.04],[7.99,0.56],[8.4,0.82],[8.81,1.16],[9.26,1.29],[9.63,1.39],[9.91,1.78],[10.24,1.96],[10.61,2.09],[10.81,2.12],[10.49,1.75],[10.24,1.5],[10.18,1.24],[10,0.98],[9.91,0.87],[9.67,0.77],[9.5,0.56],[9.3,0.2],[9.01,-0.27],[8.65,-0.63],[8.16,-0.74],[7.71,-0.53]],
  [[7.6,-0.22],[7.79,0.2],[8.11,0.51],[8.48,0.69],[8.81,1.03],[9.26,1.24],[9.59,1.34],[9.79,1.26],[9.59,1.13],[9.42,0.92],[9.3,0.51],[9.14,0.15],[8.89,-0.22],[8.56,-0.53],[8.16,-0.61],[7.79,-0.45]],
  [[7.79,-0.11],[7.95,0.2],[8.24,0.4],[8.56,0.61],[8.89,0.98],[9.26,1.18],[9.5,1.26],[9.42,1.13],[9.3,0.87],[9.18,0.46],[9.01,0.09],[8.77,-0.27],[8.48,-0.45],[8.16,-0.5],[7.87,-0.35]],
  [[7.95,-0.06],[8.07,0.15],[8.32,0.35],[8.61,0.53],[8.89,0.87],[9.22,1.13],[9.42,1.18],[9.3,1.03],[9.14,0.61],[8.97,0.2],[8.73,-0.17],[8.48,-0.35],[8.2,-0.4],[7.99,-0.27]],
  [[8.07,-0.06],[8.2,0.15],[8.44,0.33],[8.69,0.48],[8.89,0.72],[9.18,1.03],[9.3,1.05],[9.14,0.77],[8.93,0.3],[8.69,-0.06],[8.44,-0.24],[8.2,-0.3]],
  [[8.24,-0.06],[8.36,0.15],[8.61,0.35],[8.81,0.46],[8.89,0.46],[8.81,0.2],[8.61,-0.06],[8.4,-0.17],[8.28,-0.17]],
  [[8.34,-0.04],[8.44,0.15],[8.69,0.38],[8.77,0.4],[8.77,0.25],[8.61,0.04],[8.4,-0.1]],
];
const isletP5: P[] = [[10.2,0.98],[10.53,1.16],[10.9,1.11],[10.85,0.98],[10.49,0.77],[10.24,0.82]];
const contoursP6: P[][] = [
  [[7.44,-0.01],[7.54,0.61],[7.64,1.16],[7.91,1.44],[8.05,1.44],[8.09,1.29],[8.44,1.34],[8.93,1.44],[9.46,1.6],[9.78,1.86],[9.91,2.22],[10.27,2.46],[10.68,2.51],[10.93,2.22],[10.84,1.81],[11.09,1.5],[11.17,1.24],[11.09,1.03],[10.68,0.82],[10.27,0.66],[9.87,0.35],[9.66,0.09],[9.29,-0.22],[8.89,-0.53],[8.44,-0.76],[8.03,-0.76],[7.78,-0.48],[7.5,-0.27]],
  [[7.7,0.04],[7.82,0.51],[8.11,0.87],[8.44,1.08],[8.93,1.26],[9.46,1.5],[9.95,1.68],[10.52,1.44],[10.68,1.34],[10.6,1.13],[10.19,0.92],[9.95,0.87],[9.62,0.61],[9.54,0.35],[9.29,-0.06],[8.89,-0.43],[8.44,-0.58],[8.15,-0.5],[7.91,-0.27]],
  [[7.89,0.2],[8.09,0.61],[8.44,0.92],[8.97,1.18],[9.46,1.44],[9.95,1.65],[10.01,1.57],[9.95,1.34],[9.62,1.03],[9.5,0.72],[9.29,0.25],[8.97,-0.17],[8.6,-0.43],[8.27,-0.43],[8.03,-0.11]],
  [[8.09,0.25],[8.27,0.61],[8.64,0.92],[9.01,1.16],[9.46,1.39],[9.87,1.5],[9.78,1.31],[9.54,1.08],[9.42,0.77],[9.21,0.3],[8.93,-0.06],[8.64,-0.3],[8.36,-0.32],[8.15,-0.06]],
  [[8.23,0.25],[8.4,0.56],[8.68,0.82],[9.05,1.13],[9.46,1.34],[9.74,1.42],[9.62,1.29],[9.46,1.08],[9.33,0.74],[9.13,0.3],[8.89,-0.01],[8.64,-0.17],[8.4,-0.17],[8.27,0.04]],
  [[8.33,0.25],[8.48,0.51],[8.76,0.77],[9.09,1.08],[9.42,1.29],[9.58,1.29],[9.42,1.08],[9.25,0.72],[9.05,0.3],[8.8,0.04],[8.6,-0.06],[8.4,-0.01]],
  [[8.44,0.25],[8.6,0.51],[8.84,0.72],[9.17,1.03],[9.42,1.18],[9.38,1.03],[9.21,0.72],[9.01,0.35],[8.8,0.15],[8.6,0.07],[8.48,0.12]],
  [[8.54,0.25],[8.68,0.46],[8.97,0.72],[9.21,0.95],[9.44,1.08],[9.17,0.64],[8.97,0.35],[8.76,0.2],[8.6,0.2]],
];
const contours = [contoursP1, contoursP2, contoursP3, contoursP4, contoursP5, contoursP6];
const levelFill = ['#f3f3f3', '#dddddd', '#c8c8c8', '#b4b4b4', '#a6a6a6', '#9a9a9a', '#8e8e8e', '#808080'];
const levelLine = ['rgba(0,0,0,0)', 'rgba(0,0,0,0)', 'rgba(130,130,130,.6)', 'rgba(115,115,115,.7)', 'rgba(105,105,105,.8)', 'rgba(95,95,95,.85)', 'rgba(85,85,85,.9)', 'rgba(60,60,60,.9)'];

// ---- typical uncertainty marker in panel 2 ----
const errMass = [10.44, 10.5, 10.56];
const errSfr = [2.38, 2.48, 2.58];

// ---- colour bar ----
const cbMin = 10;
const cbMax = 3000;
const cbLabelled = [40, 100, 500];
const cbMinor = [20, 30, 50, 60, 70, 80, 90, 200, 300, 400, 600, 700, 800, 900, 1000, 2000, 3000];

// ---- helpers ----
const jetCh = (t: number, k: number[][]) => {
  for (let i = 1; i < k.length; i++) {
    if (t <= k[i][0]) return k[i - 1][1] + ((t - k[i - 1][0]) / (k[i][0] - k[i - 1][0])) * (k[i][1] - k[i - 1][1]);
  }
  return k[k.length - 1][1];
};
const jetFrac = (t: number) => {
  const r = jetCh(t, [[0, 0], [0.35, 0], [0.66, 1], [0.89, 1], [1, 0.5]]);
  const g = jetCh(t, [[0, 0], [0.125, 0], [0.375, 1], [0.64, 1], [0.91, 0], [1, 0]]);
  const b = jetCh(t, [[0, 0.5], [0.11, 1], [0.34, 1], [0.65, 0], [1, 0]]);
  return `rgb(${Math.round(r * 255)},${Math.round(g * 255)},${Math.round(b * 255)})`;
};
const snColor = (sn: number) => jetFrac(Math.min(1, Math.max(0, Math.log(sn / cbMin) / Math.log(cbMax / cbMin))));

const colLeft = [84.5, 452.2, 820.3];
const colWidth = 367;
const histTop = [13.3, 455.2];
const mainTop = [101.5, 543.6];
const mainBottom = [455.2, 898];

const GRAY = '#808080';

type Part = { t: string; i?: boolean; s?: 'sub' | 'sup' };
function drawParts(ctx: CanvasRenderingContext2D, parts: Part[], size: number, x: number, y: number, rotate: boolean) {
  ctx.save();
  ctx.translate(x, y);
  if (rotate) ctx.rotate(-Math.PI / 2);
  ctx.fillStyle = '#000';
  ctx.textBaseline = 'alphabetic';
  ctx.textAlign = 'left';
  const fontOf = (p: Part) => `${p.i ? 'italic ' : ''}${p.s ? size * 0.7 : size}px ${FONT}`;
  let w = 0;
  for (const p of parts) {
    ctx.font = fontOf(p);
    w += ctx.measureText(p.t).width;
  }
  let cx = -w / 2;
  for (const p of parts) {
    ctx.font = fontOf(p);
    const dy = p.s === 'sub' ? size * 0.22 : p.s === 'sup' ? -size * 0.42 : 0;
    ctx.fillText(p.t, cx, dy);
    cx += ctx.measureText(p.t).width;
  }
  ctx.restore();
}
const sfrLabel: Part[] = [{ t: 'log (SFR/' }, { t: 'M', i: true }, { t: '⊙', s: 'sub' }, { t: ' yr', i: true }, { t: '−1', s: 'sup' }, { t: ')' }];
const massLabel: Part[] = [{ t: 'log (' }, { t: 'M', i: true }, { t: ' ∗ ', s: 'sub' }, { t: '/', i: true }, { t: 'M', i: true }, { t: ' ⊙ ', s: 'sub' }, { t: ')' }];
const detectLabel: Part[] = [{ t: 'detect frac.' }];

const frameOpts = (notes: { x: number; y: number; text: string; size: number }[], extra?: (c: any) => void) => ({
  id: 'frame',
  afterDraw(c: any) {
    const ctx = c.ctx;
    const a = c.chartArea;
    ctx.save();
    for (const n of notes) {
      ctx.font = `${n.size}px ${FONT}`;
      ctx.fillStyle = '#000';
      ctx.textAlign = 'left';
      ctx.textBaseline = 'alphabetic';
      ctx.fillText(n.text, c.scales.x.getPixelForValue(n.x), c.scales.y.getPixelForValue(n.y));
    }
    ctx.strokeStyle = '#000';
    ctx.lineWidth = 1.4;
    ctx.strokeRect(a.left, a.top, a.right - a.left, a.bottom - a.top);
    ctx.restore();
    if (extra) extra(c);
  },
});

const fixedFit = (horizontal: boolean, size: number) => (s: any) => {
  if (horizontal) s.height = size;
  else s.width = size;
  s.paddingLeft = s.paddingRight = s.paddingTop = s.paddingBottom = 0;
};

function axisX(showLabels: boolean, outward: boolean, bottomY: number) {
  return {
    type: 'linear',
    position: 'bottom',
    min: 7,
    max: 11.5,
    bounds: 'data',
    afterFit: fixedFit(true, 975 - bottomY),
    afterBuildTicks: (s: any) => { s.ticks = massTicks.map((value) => ({ value })); },
    border: { display: false },
    grid: { z: 1, drawOnChartArea: false, drawTicks: true, tickLength: outward ? 7 : -6, tickWidth: 1.3, tickColor: '#000' },
    ticks: { display: showLabels, autoSkip: false, maxRotation: 0, padding: 8, color: '#000', font: { family: FONT, size: 17.5 }, callback: (v: number) => String(v) },
  };
}
function axisY(col: number, min: number, max: number, ticks: number[], digits: number, size: number) {
  return {
    type: 'linear',
    position: 'left',
    min,
    max,
    bounds: 'data',
    afterFit: fixedFit(false, colLeft[col]),
    afterBuildTicks: (s: any) => { s.ticks = ticks.map((value) => ({ value })); },
    border: { display: false },
    grid: { z: 1, drawOnChartArea: false, drawTicks: true, tickLength: col === 0 ? 7 : -6, tickWidth: 1.3, tickColor: '#000' },
    ticks: { display: col === 0, autoSkip: false, maxRotation: 0, padding: 7, labelOffset: 1.5, color: '#000', font: { family: FONT, size }, callback: (v: number) => v.toFixed(digits) },
  };
}
const pts = (xs: number[], ys: number[]) => xs.map((x, i) => ({ x, y: ys[i] }));
const base = { showLine: true, pointRadius: 0, pointHoverRadius: 0, clip: 0, fill: false, tension: 0 };

const vertical = (x: number, yMin: number, yMax: number, blue: boolean) => ({
  ...base,
  data: pts([x, x], [yMin, yMax]),
  borderColor: blue ? '#00bfff' : 'rgba(0,250,154,.7)',
  borderWidth: blue ? 2.6 : 1.5,
  borderDash: blue ? [9, 4] : [5, 2],
});

function histConfig(p: number) {
  const col = p % 3;
  const row = Math.floor(p / 3);
  const list: any[] = [
    { ...base, data: pts([7, 11.5], [detectLevel, detectLevel]), borderColor: p === 4 ? 'rgba(128,128,128,.75)' : 'rgba(128,128,128,.5)', borderWidth: 2.4, borderDash: [9, 4.5] },
    { ...base, stepped: 'before', data: pts(binEdges, greenFrac[p]), borderColor: '#00ff7f', borderWidth: 3.2 },
    { ...base, stepped: 'before', data: pts(binEdges, blueFrac[p]), borderColor: 'rgba(0,191,255,.6)', borderWidth: 3.2 },
    vertical(blueLimit[p], 0, 1.1, true),
    vertical(greenLimit[p], 0, 1.1, false),
  ];
  return {
    type: 'scatter',
    data: { datasets: list.reverse() },
    options: {
      animation: false,
      responsive: false,
      devicePixelRatio: 1,
      events: [],
      layout: { padding: { left: 0, right: 1200 - colLeft[col] - colWidth, top: histTop[row], bottom: 0 } },
      plugins: { legend: { display: false }, tooltip: { enabled: false } },
      scales: { x: axisX(false, false, mainTop[row]), y: axisY(col, 0, 1.1, fracTicks, 1, 19) },
    },
    plugins: [frameOpts([{ x: zLabelX[p], y: 0.6, text: zLabels[p], size: 19 }], col === 0 ? (c: any) => drawParts(c.ctx, detectLabel, 19, 29, (c.chartArea.top + c.chartArea.bottom) / 2 + 1, true) : undefined)],
  };
}

function mainConfig(p: number) {
  const col = p % 3;
  const row = Math.floor(p / 3);
  const polygon = (poly: P[], fill: string, line: string) => ({
    ...base,
    data: [...poly, poly[0]].map(([x, y]) => ({ x, y })),
    fill: 'shape',
    backgroundColor: fill,
    borderColor: line,
    borderWidth: 0.9,
    tension: 0.35,
    capBezierPoints: false,
  });
  const list: any[] = [];
  contours[p].forEach((poly, lv) => {
    list.push(polygon(poly, levelFill[lv], levelLine[lv]));
    if (p === 0 && lv === 0) list.push(polygon(holeP1, '#ffffff', 'rgba(0,0,0,0)'));
    if (p === 1 && lv === 1) list.push(polygon(isletP2, '#dddddd', 'rgba(0,0,0,0)'));
    if (p === 4 && lv === 1) list.push(polygon(isletP5, '#dddddd', 'rgba(0,0,0,0)'));
  });
  const curve = { ...base, cubicInterpolationMode: 'monotone', borderColor: GRAY, borderWidth: 3.2 };
  list.push({ ...curve, data: pts(msMass, msMid[p]) });
  list.push({ ...curve, data: pts(msMass, msUpper[p]), borderDash: [11, 5.5] });
  list.push({ ...curve, data: pts(msMass, msLower[p]), borderDash: [11, 5.5] });
  list.push(vertical(blueLimit[p], -2, 3.5, true));
  list.push(vertical(greenLimit[p], -2, 3.5, false));
  if (p === 1) {
    const cap = { ...base, borderColor: '#000', borderWidth: 1.4, pointStyle: 'line', pointRadius: [3, 0, 3], pointBorderColor: '#000', pointBorderWidth: 1.4 };
    list.push({ ...cap, data: pts(errMass, [errSfr[1], errSfr[1], errSfr[1]]), pointRotation: 90 });
    list.push({ ...cap, data: pts([errMass[1], errMass[1], errMass[1]], errSfr) });
  }
  list.push({
    type: 'scatter',
    showLine: false,
    clip: 0,
    data: galaxies[p].map(([x, y]) => ({ x, y })),
    backgroundColor: galaxies[p].map((g) => snColor(g[2])),
    borderWidth: 0,
    pointRadius: 3.6,
    pointHoverRadius: 3.6,
  });
  const notes = p === 0 ? [{ x: 7.52, y: -1.46, text: 'MS', size: 18.5 }, { x: 8.26, y: -1.71, text: 'ΔMS=±0.5', size: 18.7 }] : [];
  return {
    type: 'scatter',
    data: { datasets: list.reverse() },
    options: {
      animation: false,
      responsive: false,
      devicePixelRatio: 1,
      events: [],
      layout: { padding: { left: 0, right: 1200 - colLeft[col] - colWidth, top: mainTop[row], bottom: 0 } },
      plugins: { legend: { display: false }, tooltip: { enabled: false } },
      scales: { x: axisX(row === 1, row === 1, mainBottom[row]), y: axisY(col, -2, 3.5, sfrTicks, 0, 17.5) },
    },
    plugins: [frameOpts(notes, (c: any) => {
      if (col === 0) drawParts(c.ctx, sfrLabel, 18, 38, (c.chartArea.top + c.chartArea.bottom) / 2, true);
      if (row === 1) drawParts(c.ctx, massLabel, 18, (c.chartArea.left + c.chartArea.right) / 2, 957, false);
    })],
  };
}

function colorbarConfig() {
  return {
    type: 'scatter',
    data: { datasets: [] },
    options: {
      animation: false,
      responsive: false,
      devicePixelRatio: 1,
      events: [],
      layout: { padding: { left: 268, right: 1200 - 434, top: 137, bottom: 0 } },
      plugins: { legend: { display: false }, tooltip: { enabled: false } },
      scales: {
        x: {
          type: 'logarithmic',
          position: 'bottom',
          min: cbMin,
          max: cbMax,
          bounds: 'data',
          afterFit: fixedFit(true, 975 - 155),
          afterBuildTicks: (s: any) => { s.ticks = cbLabelled.map((value) => ({ value })); },
          border: { display: false },
          grid: { z: 1, drawOnChartArea: false, drawTicks: true, tickLength: 6, tickWidth: 1.1, tickColor: '#000' },
          ticks: { autoSkip: false, maxRotation: 0, padding: 5, color: '#000', font: { family: FONT, size: 14 }, callback: (v: number) => String(v) },
        },
        y: { display: false, min: 0, max: 1 },
      },
    },
    plugins: [{
      id: 'cb',
      beforeDatasetsDraw(c: any) {
        const a = c.chartArea;
        const g = c.ctx.createLinearGradient(a.left, 0, a.right, 0);
        for (let i = 0; i <= 64; i++) g.addColorStop(i / 64, jetFrac(i / 64));
        c.ctx.save();
        c.ctx.fillStyle = g;
        c.ctx.fillRect(a.left, a.top, a.right - a.left, a.bottom - a.top);
        c.ctx.restore();
      },
      afterDraw(c: any) {
        const a = c.chartArea;
        const ctx = c.ctx;
        ctx.save();
        ctx.strokeStyle = '#000';
        ctx.lineWidth = 1.4;
        ctx.strokeRect(a.left, a.top, a.right - a.left, a.bottom - a.top);
        ctx.lineWidth = 0.9;
        for (const v of cbMinor) {
          const x = c.scales.x.getPixelForValue(v);
          ctx.beginPath();
          ctx.moveTo(x, a.bottom);
          ctx.lineTo(x, a.bottom + 3.5);
          ctx.stroke();
        }
        ctx.fillStyle = '#000';
        ctx.font = `14px ${FONT}`;
        ctx.textAlign = 'center';
        ctx.textBaseline = 'alphabetic';
        ctx.fillText('S/N', 351, 128);
        ctx.restore();
      },
    }],
  };
}

export default function App() {
  const refs = useRef<(HTMLCanvasElement | null)[]>([]);
  useEffect(() => {
    const configs: any[] = [];
    for (let p = 0; p < 6; p++) {
      configs.push(mainConfig(p));
      configs.push(histConfig(p));
    }
    configs.push(colorbarConfig());
    const charts = configs.map((cfg, i) => new Chart(refs.current[i] as HTMLCanvasElement, cfg));
    return () => charts.forEach((c) => c.destroy());
  }, []);
  return (
    <div style={{ position: 'absolute', left: 0, top: 0, width: 1200, height: 975, background: '#fff', overflow: 'hidden' }}>
      {Array.from({ length: 13 }, (_, i) => (
        <canvas
          key={i}
          ref={(el) => { refs.current[i] = el; }}
          width={1200}
          height={975}
          style={{ position: 'absolute', left: 0, top: 0, width: 1200, height: 975 }}
        />
      ))}
    </div>
  );
}
